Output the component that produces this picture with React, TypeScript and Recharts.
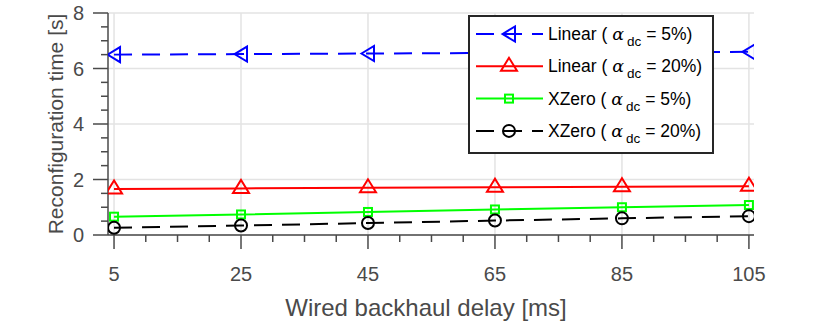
import { CartesianGrid, Legend, Line, LineChart, XAxis, YAxis } from "recharts";

// delays on the x axis, and the four measured series
const delays = [5, 25, 45, 65, 85, 105];
const linear5 = [6.5, 6.52, 6.54, 6.56, 6.58, 6.6];
const linear20 = [1.66, 1.68, 1.7, 1.72, 1.74, 1.76];
const xzero5 = [0.66, 0.74, 0.83, 0.92, 1.0, 1.08];
const xzero20 = [0.26, 0.34, 0.43, 0.52, 0.6, 0.68];

const xTicks = [5, 10, 15, 20, 25, 30, 35, 40, 45, 50, 55, 60, 65, 70, 75, 80, 85, 90, 95, 100, 105];
const xMajor = [5, 25, 45, 65, 85, 105];
const yTicks = [0, 0.5, 1, 1.5, 2, 2.5, 3, 3.5, 4, 4.5, 5, 5.5, 6, 6.5, 7, 7.5, 8];
const yMajor = [0, 2, 4, 6, 8];

const data = delays.map((d, i) => ({
  delay: d,
  linear5: linear5[i],
  linear20: linear20[i],
  xzero5: xzero5[i],
  xzero20: xzero20[i],
}));

const AXIS = "#4a4a4a";
const GRID = "#e3e3e3";
const FONT = "'Liberation Sans', Arial, Helvetica, sans-serif";

type Shape = "triLeft" | "triUp" | "square" | "circle";

function Marker({ cx, cy, shape, color }: { cx: number; cy: number; shape: Shape; color: string }) {
  const common = { fill: "none", stroke: color, strokeWidth: 2 };
  if (shape === "triLeft")
    return <polygon points={`${cx - 6.5},${cy} ${cx + 6},${cy - 7.5} ${cx + 6},${cy + 7.5}`} {...common} />;
  if (shape === "triUp")
    return <polygon points={`${cx},${cy - 8.5} ${cx - 8},${cy + 4.5} ${cx + 8},${cy + 4.5}`} {...common} />;
  if (shape === "square") return <rect x={cx - 4} y={cy - 4} width={8} height={8} {...common} />;
  return <circle cx={cx} cy={cy} r={6} {...common} />;
}

const series = [
  { key: "linear5", name: "Linear", pct: "5%", color: "#0000ff", dash: "18 10", shape: "triLeft" as Shape },
  { key: "linear20", name: "Linear", pct: "20%", color: "#ff0000", dash: undefined, shape: "triUp" as Shape },
  { key: "xzero5", name: "XZero", pct: "5%", color: "#00ff00", dash: undefined, shape: "square" as Shape },
  { key: "xzero20", name: "XZero", pct: "20%", color: "#000000", dash: "18 10", shape: "circle" as Shape },
];

function XTick({ x, y, payload }: any) {
  const major = xMajor.includes(payload.value);
  return (
    <g>
      <line x1={x} x2={x} y1={y} y2={y + (major ? 14 : 7)} stroke={AXIS} strokeWidth={1.5} />
      {major && (
        <text x={x} y={y + 39} textAnchor="middle" dominantBaseline="central" fill={AXIS} fontSize={20} fontFamily={FONT}>
          {payload.value}
        </text>
      )}
    </g>
  );
}

function YTick({ x, y, payload }: any) {
  const major = yMajor.includes(payload.value);
  return (
    <g>
      <line x1={x} x2={x - (major ? 15 : 7)} y1={y} y2={y} stroke={AXIS} strokeWidth={1.5} />
      {major && (
        <text x={x - 24} y={y} textAnchor="end" dominantBaseline="central" fill={AXIS} fontSize={20} fontFamily={FONT}>
          {payload.value}
        </text>
      )}
    </g>
  );
}

function LegendBox() {
  return (
    <svg width={246} height={139} style={{ display: "block" }}>
      <rect x={1} y={1} width={244} height={137} fill="#fff" stroke="#262626" strokeWidth={2} />
      {series.map((s, i) => {
        const y = 19 + i * 32.3;
        return (
          <g key={s.key}>
            <line x1={8} x2={75} y1={y} y2={y} stroke={s.color} strokeWidth={2} strokeDasharray={s.dash} />
            <Marker cx={41} cy={y} shape={s.shape} color={s.color} />
            <text x={80} y={y + 6} fontSize={17.5} fontFamily={FONT} fill="#000">
              <tspan>{s.name} ( </tspan>
              <tspan fontStyle="italic" fontFamily="'DejaVu Serif', serif">α</tspan>
              <tspan dx={3} dy={6} fontSize={13.5}>dc</tspan>
              <tspan dy={-6}> = {s.pct})</tspan>
            </text>
          </g>
        );
      })}
    </svg>
  );
}

export default function App() {
  return (
    <div style={{ position: "absolute", left: 0, top: 0, width: 830, height: 326, background: "#fff" }}>
      <LineChart width={830} height={326} data={data} margin={{ top: 13, right: 76, bottom: 0, left: 0 }}>
        <CartesianGrid
          stroke={GRID}
          strokeWidth={1.5}
          horizontalValues={yMajor}
          verticalValues={xMajor}
        />
        <XAxis
          dataKey="delay"
          type="number"
          domain={[4.05, 105.8]}
          allowDataOverflow
          ticks={xTicks}
          interval={0}
          tickSize={0}
          tickMargin={0}
          tick={<XTick />}
          height={91}
          axisLine={{ stroke: AXIS, strokeWidth: 1.5 }}
          tickLine={false}
          label={{
            content: ({ viewBox }: any) => (
              <text
                x={viewBox.x + viewBox.width / 2 - 5}
                y={307}
                textAnchor="middle"
                dominantBaseline="central"
                fill={AXIS}
                fontSize={24}
                fontFamily={FONT}
              >
                Wired backhaul delay [ms]
              </text>
            ),
          }}
        />
        <YAxis
          type="number"
          domain={[0, 8]}
          ticks={yTicks}
          interval={0}
          tickSize={0}
          tickMargin={0}
          tick={<YTick />}
          width={108}
          axisLine={{ stroke: AXIS, strokeWidth: 1.5 }}
          tickLine={false}
          label={{
            content: ({ viewBox }: any) => {
              const cy = viewBox.y + viewBox.height / 2;
              return (
                <text
                  x={55}
                  y={cy}
                  transform={`rotate(-90 55 ${cy})`}
                  textAnchor="middle"
                  dominantBaseline="central"
                  fill={AXIS}
                  fontSize={21}
                  fontFamily={FONT}
                >
                  Reconfiguration time [s]
                </text>
              );
            },
          }}
        />
        {series.map((s) => (
          <Line
            key={s.key}
            dataKey={s.key}
            type="linear"
            stroke={s.color}
            strokeWidth={2}
            strokeDasharray={s.dash}
            isAnimationActive={false}
            dot={(p: any) => <Marker key={`${s.key}-${p.index}`} cx={p.cx} cy={p.cy} shape={s.shape} color={s.color} />}
            activeDot={false}
          />
        ))}
        <Legend
          layout="vertical"
          align="center"
          verticalAlign="middle"
          wrapperStyle={{ left: 468, top: 15, width: 246, height: 139 }}
          content={() => <LegendBox />}
        />
      </LineChart>
    </div>
  );
}
